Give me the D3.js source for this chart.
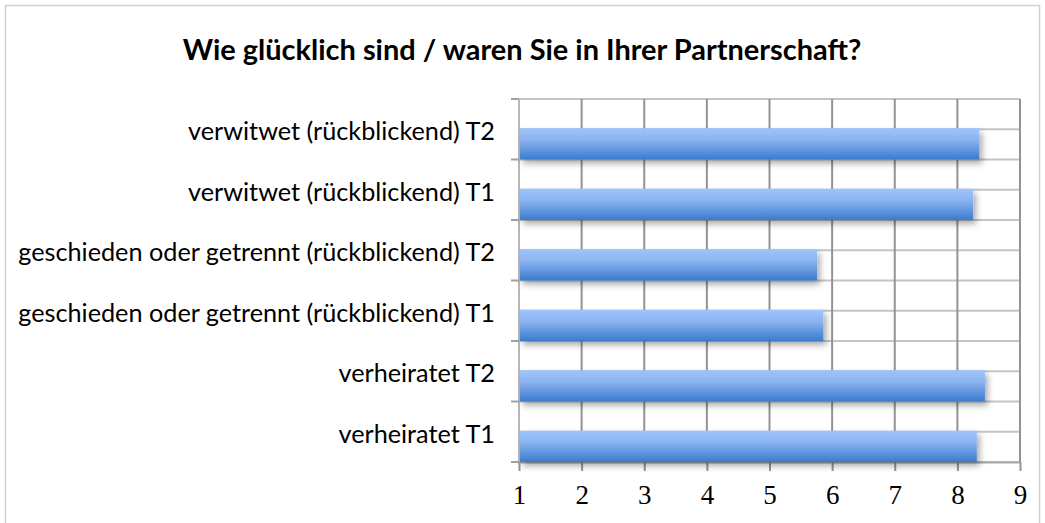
<!DOCTYPE html>
<html>
<head>
<meta charset="utf-8">
<script src="https://cdnjs.cloudflare.com/ajax/libs/d3/7.8.5/d3.min.js"></script>
<style>
  body { margin: 0; background: #fff; }
  svg { display: block; }
</style>
</head>
<body>
<div id="chart"></div>
<script>
var svgWidth = 1045
var svgHeight = 523

var categories = [
  "verwitwet (rückblickend) T2",
  "verwitwet (rückblickend) T1",
  "geschieden oder getrennt (rückblickend) T2",
  "geschieden oder getrennt (rückblickend) T1",
  "verheiratet T2",
  "verheiratet T1"
]
var values = [8.35, 8.25, 5.76, 5.86, 8.44, 8.31]
var tickValues = [1, 2, 3, 4, 5, 6, 7, 8, 9]
var title = "Wie glücklich sind / waren Sie in Ihrer Partnerschaft?"

var margin = { left: 519, right: 25, top: 99, bottom: 61 }

var svg = d3.select("#chart").append("svg")
  .attr("width", svgWidth)
  .attr("height", svgHeight)

var defs = svg.append("defs")
var grad = defs.append("linearGradient")
  .attr("id", "barGrad")
  .attr("x1", 0).attr("y1", 0).attr("x2", 0).attr("y2", 1)
grad.append("stop").attr("offset", "0%").attr("stop-color", "#9ec4fd")
grad.append("stop").attr("offset", "35%").attr("stop-color", "#8db5f2")
grad.append("stop").attr("offset", "100%").attr("stop-color", "#3b7bcd")

var shadow = defs.append("filter")
  .attr("id", "shadow")
  .attr("x", "-5%").attr("y", "-30%").attr("width", "115%").attr("height", "180%")
shadow.append("feDropShadow")
  .attr("dx", 3).attr("dy", 4)
  .attr("stdDeviation", 3)
  .attr("flood-color", "#000")
  .attr("flood-opacity", 0.33)

// chart frame
svg.append("rect")
  .attr("x", 5.5).attr("y", 5.5)
  .attr("width", svgWidth - 11).attr("height", svgHeight)
  .attr("fill", "#fff")
  .attr("stroke", "#d0d0d0")
  .attr("stroke-width", 1.5)

var x = d3.scaleLinear()
  .domain([1, 9])
  .range([margin.left, svgWidth - margin.right])

var y = d3.scaleBand()
  .domain(categories)
  .range([margin.top, svgHeight - margin.bottom])
  .paddingInner(0)
  .paddingOuter(0)

var plotTop = margin.top
var plotBottom = svgHeight - margin.bottom

// horizontal grid lines (band edges and bar tops)
var hLines = []
categories.forEach(function(c) {
  hLines.push(y(c))
  hLines.push(y(c) + y.bandwidth() / 2)
})
hLines.push(plotBottom)
svg.append("g").selectAll("line")
  .data(hLines)
  .enter()
  .append("line")
  .attr("x1", x(1)).attr("x2", x(9))
  .attr("y1", function(d) { return d })
  .attr("y2", function(d) { return d })
  .style("stroke", "#c4c4c4")
  .style("stroke-width", 2)

// vertical grid lines
svg.append("g").selectAll("line")
  .data(tickValues.slice(1))
  .enter()
  .append("line")
  .attr("x1", function(d) { return x(d) })
  .attr("x2", function(d) { return x(d) })
  .attr("y1", plotTop)
  .attr("y2", plotBottom)
  .style("stroke", "#939393")
  .style("stroke-width", 2)

// x axis
var xAxis = svg.append("g")
  .attr("transform", "translate(0," + plotBottom + ")")
  .attr("font-size", 27)
  .attr("font-family", "'Liberation Serif', 'DejaVu Serif', serif")
  .call(d3.axisBottom(x).tickValues(tickValues).tickSize(9).tickSizeOuter(0).tickPadding(14))
xAxis.attr("font-size", 27).attr("font-family", "'Liberation Serif', 'DejaVu Serif', serif")
xAxis.select(".domain").attr("stroke", "#a8a8a8").attr("stroke-width", 2)
xAxis.selectAll(".tick line").attr("stroke", "#939393").attr("stroke-width", 2)
xAxis.selectAll(".tick text")
  .attr("fill", "#000")
  .style("font-family", "'Liberation Serif', 'DejaVu Serif', serif")
  .style("font-size", "27px")

// y axis line and ticks
svg.append("line")
  .attr("x1", x(1)).attr("x2", x(1))
  .attr("y1", plotTop).attr("y2", plotBottom)
  .style("stroke", "#b8b8b8")
  .style("stroke-width", 2)
var yTicks = categories.map(function(c) { return y(c) })
yTicks.push(plotBottom)
svg.append("g").selectAll("line")
  .data(yTicks)
  .enter()
  .append("line")
  .attr("x1", x(1) - 8).attr("x2", x(1))
  .attr("y1", function(d) { return d })
  .attr("y2", function(d) { return d })
  .style("stroke", "#a0a0a0")
  .style("stroke-width", 2)

// bars
svg.append("g").selectAll("rect")
  .data(categories)
  .enter()
  .append("rect")
  .attr("x", x(1) + 1)
  .attr("y", function(d) { return y(d) + y.bandwidth() / 2 - 1 })
  .attr("width", function(d, i) { return x(values[i]) - x(1) - 1 })
  .attr("height", y.bandwidth() / 2 + 1)
  .attr("fill", "url(#barGrad)")
  .attr("filter", "url(#shadow)")

// category labels
var labels = svg.append("g").selectAll("text")
  .data(categories)
  .enter()
  .append("text")
  .attr("x", 495)
  .attr("y", function(d) { return y(d) + y.bandwidth() / 2 + 1 })
  .attr("text-anchor", "end")
  .attr("dominant-baseline", "central")
  .style("font-family", "Lato, 'Open Sans', sans-serif")
  .style("font-size", "20px")
  .style("fill", "#000")
  .text(function(d) { return d })

// fit label size to the reference width of the longest label
var longest = labels.filter(function(d, i) { return i == 2 }).node()
var fs = 20 * 477 / longest.getComputedTextLength()
labels.style("font-size", fs + "px")

// title
var t = svg.append("text")
  .attr("x", 522)
  .attr("y", 60)
  .attr("text-anchor", "middle")
  .style("font-family", "Lato, 'Open Sans', sans-serif")
  .style("font-weight", "bold")
  .style("font-size", "24px")
  .style("fill", "#000")
  .text(title)
var tfs = 24 * 679 / t.node().getComputedTextLength()
t.style("font-size", tfs + "px")
</script>
</body>
</html>
